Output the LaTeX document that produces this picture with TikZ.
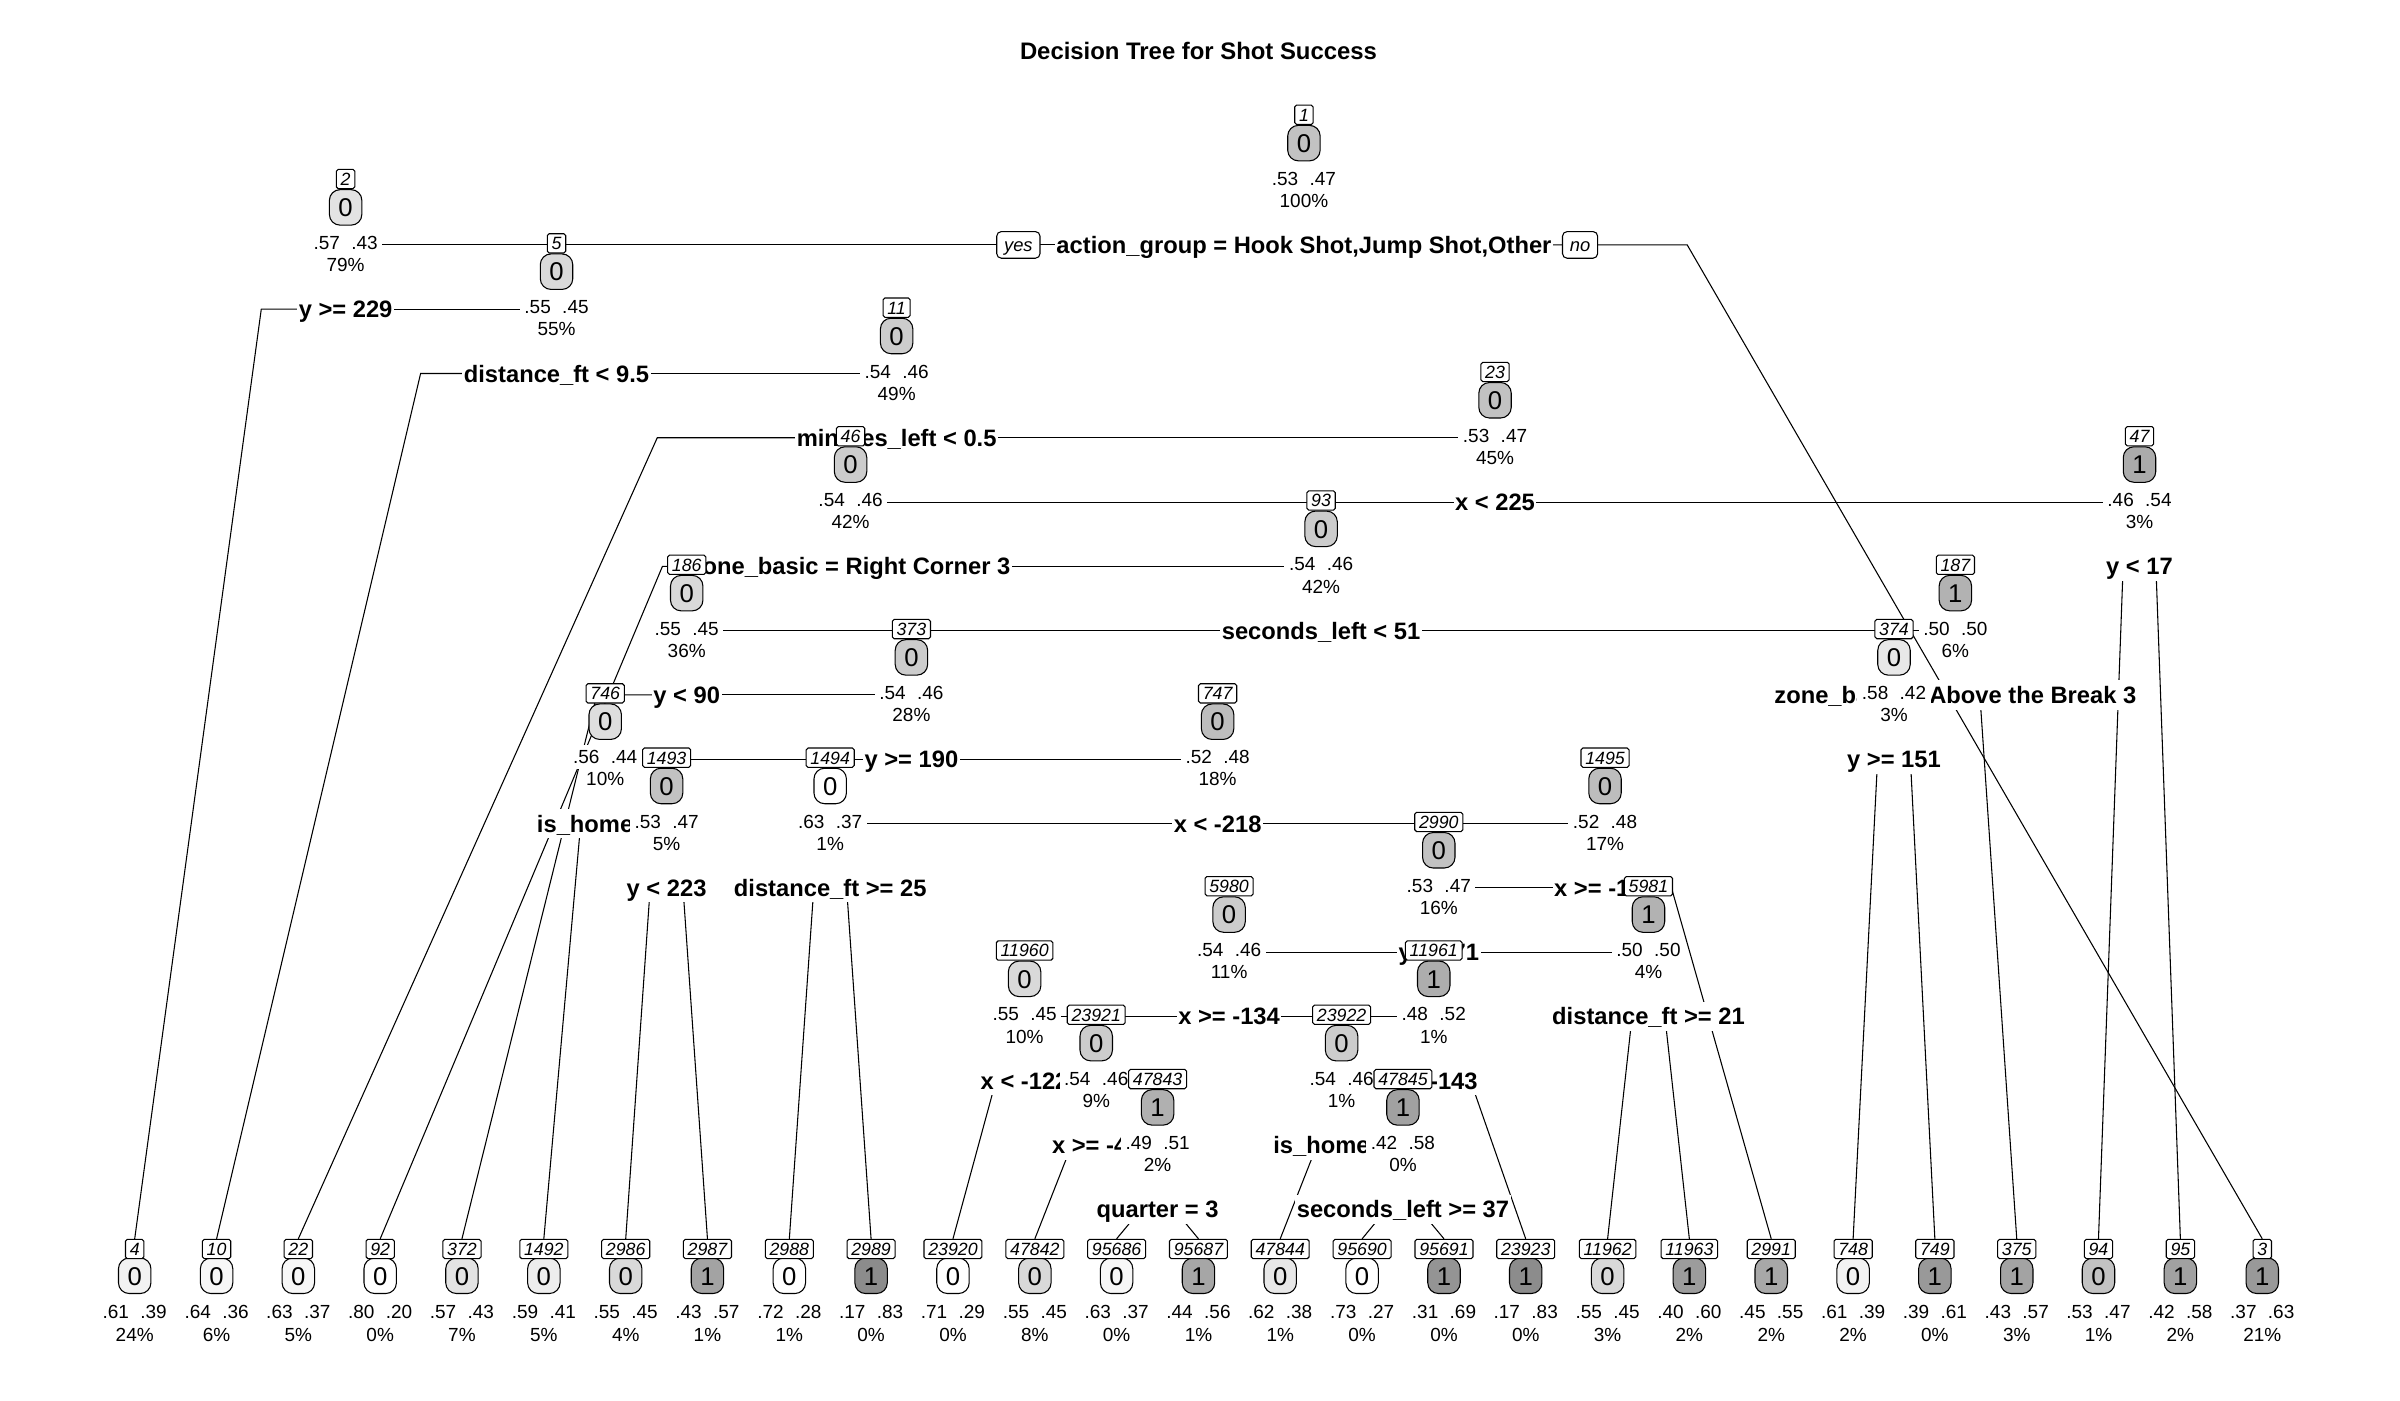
\documentclass[tikz,border=0pt]{standalone}
\usepackage{fontspec}
\setmainfont{Liberation Sans}
\usetikzlibrary{calc}
\pgfdeclarelayer{bg}
\pgfsetlayers{bg,main}
\newcommand\myinode[8]{%
 \node[clsbox, fill=black!#5] (c#1) at (#2,#3+18.5) {#4};
 \node[numbox] (n#1) at (#2,#3) {#1};
 \node[stat] (s#1) at (#2,#3+41.5) {#6\hspace{0.6em}#7};
 \node[stat] (p#1) at (#2,#3+56) {#8\%};
}
\newcommand\myleaf[7]{%
 \node[clsbox, fill=black!#4] (c#1) at (#2,833.5) {#3};
 \node[numbox] (n#1) at (#2,816) {#1};
 \node[stat] (s#1) at (#2,857) {#5\hspace{0.6em}#6};
 \node[stat] (p#1) at (#2,872) {#7\%};
}
\newcommand\mylab[4]{\node[splitlab] (l#1) at (#2,#3+85) {#4};}
\newcommand\myleafedge[3]{\coordinate (k#2) at (#3,0 |- l#1.center); \draw[branch] (l#1.center) -- (k#2) -- (n#2.north);}
\newcommand\myinedge[2]{\draw[branch] (l#1.center) -- (l#1.center -| s#2.center);}
\begin{document}
\begin{tikzpicture}[x=0.5pt,y=-0.5pt,
 branch/.style={line width=0.35pt},
 numbox/.style={draw, line width=0.35pt, fill=white, rounded corners=0.6pt, font=\fontsize{5.8}{6.5}\selectfont\itshape, inner xsep=1.4pt, inner ysep=0pt, minimum height=6.3pt, text height=4.18pt, text depth=0pt},
 clsbox/.style={draw, line width=0.35pt, rounded corners=3.5pt, font=\fontsize{8.4}{9.5}\selectfont, inner sep=0pt, minimum width=10.6pt, minimum height=11.6pt, text height=6.05pt, text depth=0pt},
 stat/.style={fill=white, font=\fontsize{6.2}{7}\selectfont, inner xsep=1.5pt, inner ysep=1.6pt, text height=4.46pt, text depth=0pt},
 splitlab/.style={fill=white, font=\fontsize{7.75}{9}\selectfont\bfseries, inner xsep=0.5pt, inner ysep=2pt, text height=5.58pt, text depth=0pt},
 yn/.style={draw, line width=0.35pt, fill=white, rounded corners=1.5pt, font=\fontsize{6}{7}\selectfont\itshape, inner xsep=2.4pt, inner ysep=0pt, minimum height=8.7pt, text height=4.32pt, text depth=0pt}]
\begin{pgfonlayer}{bg}
\fill[white] (0,0) rectangle (1568,915);
\end{pgfonlayer}
\useasboundingbox (0,0) rectangle (1568,915);
\node[font=\fontsize{7.8}{9}\selectfont\bfseries] (title) at (783,33) {Decision Tree for Shot Success};
% split labels
\mylab{1}{851.9}{75}{action\_group = Hook Shot,Jump Shot,Other}
\node[yn, anchor=east] (yes) at ([xshift=-4.5pt]l1.west) {yes};
\node[yn, anchor=west] (no) at ([xshift=2.75pt]l1.east) {no};
\mylab{2}{225.8}{117}{y >= 229}
\mylab{5}{363.6}{159}{distance\_ft < 9.5}
\mylab{11}{585.8}{201}{minutes\_left < 0.5}
\mylab{23}{976.75}{243}{x < 225}
\mylab{46}{555.7}{285}{zone\_basic = Right Corner 3}
\mylab{47}{1397.8}{285}{y < 17}
\mylab{93}{863.1}{327}{seconds\_left < 51}
\mylab{186}{448.65}{369}{y < 90}
\mylab{187}{1277.5}{369}{zone\_basic = Above the Break 3}
\mylab{373}{595.45}{411}{y >= 190}
\mylab{374}{1237.4}{411}{y >= 151}
\mylab{746}{395.4}{453}{is\_home = 0}
\mylab{747}{795.5}{453}{x < -218}
\mylab{1493}{435.5}{495}{y < 223}
\mylab{1494}{542.4}{495}{distance\_ft >= 25}
\mylab{1495}{1048.6}{495}{x >= -125}
\mylab{2990}{940.0}{537}{y >= 71}
\mylab{5980}{803.0}{579}{x >= -134}
\mylab{5981}{1077.0}{579}{distance\_ft >= 21}
\mylab{11960}{669.4}{621}{x < -122}
\mylab{11961}{936.7}{621}{x < -143}
\mylab{23921}{716.2}{663}{x >= -46}
\mylab{23922}{876.5}{663}{is\_home = 0}
\mylab{47843}{756.3}{705}{quarter = 3}
\mylab{47845}{916.6}{705}{seconds\_left >= 37}
% internal nodes
\myinode{1}{851.9}{75}{0}{24}{.53}{.47}{100}
\myinode{2}{225.8}{117}{0}{11}{.57}{.43}{79}
\myinode{5}{363.6}{159}{0}{15}{.55}{.45}{55}
\myinode{11}{585.8}{201}{0}{20}{.54}{.46}{49}
\myinode{23}{976.75}{243}{0}{24}{.53}{.47}{45}
\myinode{46}{555.7}{285}{0}{20}{.54}{.46}{42}
\myinode{47}{1397.8}{285}{1}{33}{.46}{.54}{3}
\myinode{93}{863.1}{327}{0}{20}{.54}{.46}{42}
\myinode{186}{448.65}{369}{0}{15}{.55}{.45}{36}
\myinode{187}{1277.5}{369}{1}{30}{.50}{.50}{6}
\myinode{373}{595.45}{411}{0}{20}{.54}{.46}{28}
\myinode{374}{1237.4}{411}{0}{9}{.58}{.42}{3}
\myinode{746}{395.4}{453}{0}{13}{.56}{.44}{10}
\myinode{747}{795.5}{453}{0}{26}{.52}{.48}{18}
\myinode{1493}{435.5}{495}{0}{24}{.53}{.47}{5}
\myinode{1494}{542.4}{495}{0}{0}{.63}{.37}{1}
\myinode{1495}{1048.6}{495}{0}{26}{.52}{.48}{17}
\myinode{2990}{940.0}{537}{0}{24}{.53}{.47}{16}
\myinode{5980}{803.0}{579}{0}{20}{.54}{.46}{11}
\myinode{5981}{1077.0}{579}{1}{30}{.50}{.50}{4}
\myinode{11960}{669.4}{621}{0}{15}{.55}{.45}{10}
\myinode{11961}{936.7}{621}{1}{32}{.48}{.52}{1}
\myinode{23921}{716.2}{663}{0}{20}{.54}{.46}{9}
\myinode{23922}{876.5}{663}{0}{20}{.54}{.46}{1}
\myinode{47843}{756.3}{705}{1}{31}{.49}{.51}{2}
\myinode{47845}{916.6}{705}{1}{37}{.42}{.58}{0}
% leaves
\myleaf{4}{88.0}{0}{5}{.61}{.39}{24}
\myleaf{10}{141.5}{0}{3}{.64}{.36}{6}
\myleaf{22}{194.9}{0}{3}{.63}{.37}{5}
\myleaf{92}{248.4}{0}{0}{.80}{.20}{0}
\myleaf{372}{301.8}{0}{11}{.57}{.43}{7}
\myleaf{1492}{355.3}{0}{7}{.59}{.41}{5}
\myleaf{2986}{408.8}{0}{15}{.55}{.45}{4}
\myleaf{2987}{462.2}{1}{36}{.43}{.57}{1}
\myleaf{2988}{515.7}{0}{0}{.72}{.28}{1}
\myleaf{2989}{569.1}{1}{45}{.17}{.83}{0}
\myleaf{23920}{622.6}{0}{0}{.71}{.29}{0}
\myleaf{47842}{676.1}{0}{15}{.55}{.45}{8}
\myleaf{95686}{729.5}{0}{3}{.63}{.37}{0}
\myleaf{95687}{783.0}{1}{35}{.44}{.56}{1}
\myleaf{47844}{836.4}{0}{9}{.62}{.38}{1}
\myleaf{95690}{889.9}{0}{0}{.73}{.27}{0}
\myleaf{95691}{943.4}{1}{42}{.31}{.69}{0}
\myleaf{23923}{996.8}{1}{45}{.17}{.83}{0}
\myleaf{11962}{1050.3}{0}{15}{.55}{.45}{3}
\myleaf{11963}{1103.7}{1}{39}{.40}{.60}{2}
\myleaf{2991}{1157.2}{1}{34}{.45}{.55}{2}
\myleaf{748}{1210.7}{0}{5}{.61}{.39}{2}
\myleaf{749}{1264.1}{1}{40}{.39}{.61}{0}
\myleaf{375}{1317.6}{1}{36}{.43}{.57}{3}
\myleaf{94}{1371.0}{0}{24}{.53}{.47}{1}
\myleaf{95}{1424.5}{1}{37}{.42}{.58}{2}
\myleaf{3}{1478.0}{1}{40}{.37}{.63}{21}
% connectors
\begin{pgfonlayer}{bg}
\myleafedge{1}{3}{1102.3}
\myinedge{1}{2}
\myleafedge{2}{4}{170.7}
\myinedge{2}{5}
\myleafedge{5}{10}{274.8}
\myinedge{5}{11}
\myleafedge{11}{22}{429.4}
\myinedge{11}{23}
\myinedge{23}{46}
\myinedge{23}{47}
\myleafedge{46}{92}{432.8}
\myinedge{46}{93}
\myleafedge{47}{94}{1387.1}
\myleafedge{47}{95}{1408.5}
\myinedge{93}{186}
\myinedge{93}{187}
\myleafedge{186}{372}{389.9}
\myinedge{186}{373}
\myinedge{187}{374}
\myleafedge{187}{375}{1293.5}
\myinedge{373}{746}
\myinedge{373}{747}
\myleafedge{374}{748}{1226.7}
\myleafedge{374}{749}{1248.1}
\myleafedge{746}{1492}{379.4}
\myinedge{746}{1493}
\myinedge{747}{1494}
\myinedge{747}{1495}
\myleafedge{1493}{2986}{424.8}
\myleafedge{1493}{2987}{446.2}
\myleafedge{1494}{2988}{531.7}
\myleafedge{1494}{2989}{553.1}
\myinedge{1495}{2990}
\myleafedge{1495}{2991}{1092.0}
\myinedge{2990}{5980}
\myinedge{2990}{5981}
\myinedge{5980}{11960}
\myinedge{5980}{11961}
\myleafedge{5981}{11962}{1066.3}
\myleafedge{5981}{11963}{1087.7}
\myleafedge{11960}{23920}{650.7}
\myinedge{11960}{23921}
\myinedge{11961}{23922}
\myleafedge{11961}{23923}{960.7}
\myleafedge{23921}{47842}{700.2}
\myinedge{23921}{47843}
\myleafedge{23922}{47844}{860.5}
\myinedge{23922}{47845}
\myleafedge{47843}{95686}{745.6}
\myleafedge{47843}{95687}{767.0}
\myleafedge{47845}{95690}{905.9}
\myleafedge{47845}{95691}{927.3}
\end{pgfonlayer}
\end{tikzpicture}
\end{document}
